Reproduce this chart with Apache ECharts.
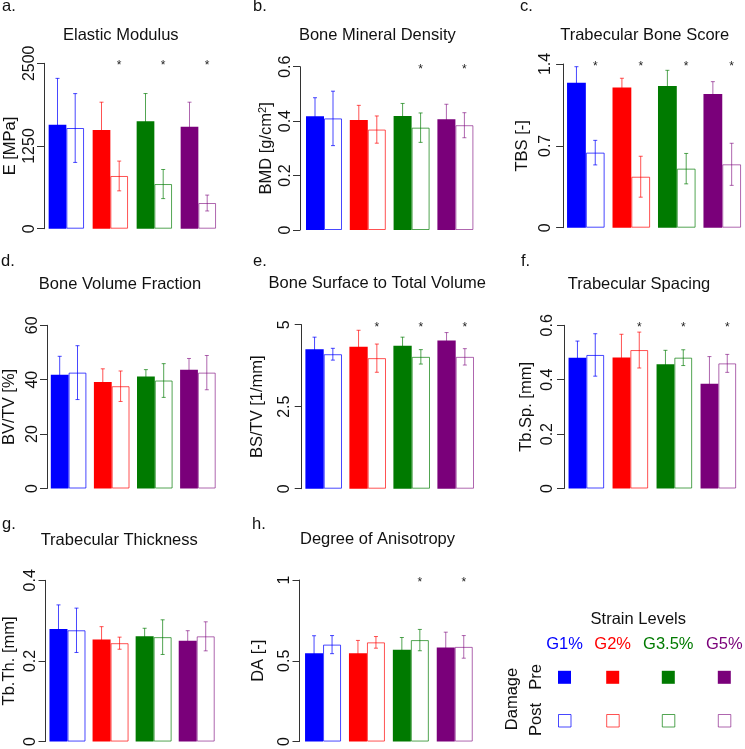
<!DOCTYPE html>
<html><head><meta charset="utf-8">
<script src="https://cdn.jsdelivr.net/npm/echarts@6/dist/echarts.min.js"></script>
<style>html,body{margin:0;padding:0;background:#fff}#c{width:745px;height:749px}</style>
</head><body><div id="c"></div>
<script>
const groups = ['G1%', 'G2%', 'G3.5%', 'G5%'];
// a. Elastic Modulus
const emPre = [1572, 1492, 1623, 1542];
const emPreSd = [700, 420, 420, 370];
const emPost = [1522, 797, 675, 388];
const emPostSd = [520, 225, 220, 120];
const emSig = [0, 1, 1, 1];
const emTicks = [0, 1250, 2500];
// b. Bone Mineral Density
const bmdPre = [0.418, 0.404, 0.419, 0.407];
const bmdPreSd = [0.068, 0.054, 0.046, 0.055];
const bmdPost = [0.410, 0.369, 0.376, 0.385];
const bmdPostSd = [0.100, 0.050, 0.054, 0.046];
const bmdSig = [0, 0, 1, 1];
const bmdTicks = [0, 0.2, 0.4, 0.6];
// c. Trabecular Bone Score
const tbsPre = [1.240, 1.198, 1.212, 1.144];
const tbsPreSd = [0.137, 0.080, 0.134, 0.105];
const tbsPost = [0.642, 0.436, 0.505, 0.542];
const tbsPostSd = [0.105, 0.175, 0.130, 0.180];
const tbsSig = [1, 1, 1, 1];
const tbsTicks = [0, 0.7, 1.4];
// d. Bone Volume Fraction
const bvPre = [41.8, 39.2, 41.2, 43.7];
const bvPreSd = [6.8, 4.8, 2.5, 4.1];
const bvPost = [42.6, 37.6, 39.7, 42.6];
const bvPostSd = [9.9, 5.6, 6.2, 6.3];
const bvSig = [0, 0, 0, 0];
const bvTicks = [0, 20, 40, 60];
// e. Bone Surface to Total Volume
const bsPre = [4.25, 4.33, 4.36, 4.52];
const bsPreSd = [0.37, 0.50, 0.26, 0.24];
const bsPost = [4.10, 3.98, 4.02, 4.02];
const bsPostSd = [0.18, 0.43, 0.22, 0.25];
const bsSig = [0, 1, 1, 1];
const bsTicks = [0, 2.5, 5];
// f. Trabecular Spacing
const spPre = [0.481, 0.482, 0.457, 0.385];
const spPreSd = [0.061, 0.085, 0.051, 0.100];
const spPost = [0.491, 0.509, 0.481, 0.460];
const spPostSd = [0.078, 0.066, 0.029, 0.033];
const spSig = [0, 1, 1, 1];
const spTicks = [0, 0.2, 0.4, 0.6];
// g. Trabecular Thickness
const thPre = [0.279, 0.253, 0.261, 0.250];
const thPreSd = [0.060, 0.032, 0.020, 0.025];
const thPost = [0.276, 0.244, 0.259, 0.261];
const thPostSd = [0.055, 0.015, 0.043, 0.036];
const thSig = [0, 0, 0, 0];
const thTicks = [0, 0.2, 0.4];
// h. Degree of Anisotropy
const daPre = [0.547, 0.547, 0.568, 0.582];
const daPreSd = [0.108, 0.079, 0.076, 0.095];
const daPost = [0.600, 0.614, 0.628, 0.586];
const daPostSd = [0.056, 0.036, 0.066, 0.070];
const daSig = [0, 0, 1, 1];
const daTicks = [0, 0.5, 1];

const colors = ['#0000ff', '#ff0000', '#007a00', '#7a007a'];
const lightColors = ['rgba(0,0,255,0.72)', 'rgba(255,0,0,0.68)', 'rgba(0,122,0,0.68)', 'rgba(122,0,122,0.6)'];
const FONT = '"Liberation Sans", Arial, sans-serif';

const panels = [
  {letter: 'a.', title: 'Elastic Modulus', name: 'E [MPa]', pre: emPre, preSd: emPreSd, post: emPost, postSd: emPostSd, sig: emSig, ticks: emTicks,
   left: 44.35, width: 176, top: 63.3, height: 165.4, axisX: 44, bw: 17.7, nameGap: 25, margin: 6.5, tx: 120.8, ty: 35, lx: 2, ly: 6.5},
  {letter: 'b.', title: 'Bone Mineral Density', name: 'BMD [g/cm{sup|2}]', pre: bmdPre, preSd: bmdPreSd, post: bmdPost, postSd: bmdPostSd, sig: bmdSig, ticks: bmdTicks,
   left: 302.1, width: 175.2, top: 66.7, height: 163.3, axisX: 300, bw: 18, nameGap: 25.5, margin: 6.8, tx: 377.3, ty: 35, lx: 253, ly: 6.5},
  {letter: 'c.', title: 'Trabecular Bone Score', name: 'TBS [-]', pre: tbsPre, preSd: tbsPreSd, post: tbsPost, postSd: tbsPostSd, sig: tbsSig, ticks: tbsTicks,
   left: 563.1, width: 186.8, top: 64, height: 163.7, axisX: 564, bw: 18.8, nameGap: 32, margin: 9.8, tx: 644.7, ty: 35, lx: 520, ly: 6.5},
  {letter: 'd.', title: 'Bone Volume Fraction', name: 'BV/TV [%]', pre: bvPre, preSd: bvPreSd, post: bvPost, postSd: bvPostSd, sig: bvSig, ticks: bvTicks,
   left: 43.45, width: 176, top: 325.3, height: 163.2, axisX: 43.4, bw: 17.8, nameGap: 29, margin: 6.5, tx: 120, ty: 284, lx: 1, ly: 261.5},
  {letter: 'e.', title: 'Bone Surface to Total Volume', name: 'BS/TV [1/mm]', pre: bsPre, preSd: bsPreSd, post: bsPost, postSd: bsPostSd, sig: bsSig, ticks: bsTicks,
   left: 301.7, width: 176, top: 324.7, height: 164, axisX: 301.7, bw: 18.3, nameGap: 35.5, margin: 9, tx: 377.3, ty: 283.3, lx: 253, ly: 261.5},
  {letter: 'f.', title: 'Trabecular Spacing', name: 'Tb.Sp. [mm]', pre: spPre, preSd: spPreSd, post: spPost, postSd: spPostSd, sig: spSig, ticks: spTicks,
   left: 564.35, width: 176, top: 325.3, height: 163.2, axisX: 564, bw: 17.8, nameGap: 29, margin: 8.2, tx: 639, ty: 284.3, lx: 521, ly: 261.5},
  {letter: 'g.', title: 'Trabecular Thickness', name: 'Tb.Th. [mm]', pre: thPre, preSd: thPreSd, post: thPost, postSd: thPostSd, sig: thSig, ticks: thTicks,
   left: 43.25, width: 175, top: 580.3, height: 164, axisX: 42.8, bw: 18, nameGap: 27.5, margin: 6.5, tx: 119.2, ty: 540.7, lx: 2, ly: 524.5},
  {letter: 'h.', title: 'Degree of Anisotropy', name: 'DA [-]', pre: daPre, preSd: daPreSd, post: daPost, postSd: daPostSd, sig: daSig, ticks: daTicks,
   left: 301.1, width: 175.6, top: 580, height: 165, axisX: 299.5, bw: 18, nameGap: 33, margin: 6.8, tx: 377.5, ty: 539.3, lx: 252, ly: 524.5}
];

const grid = [], xAxis = [], yAxis = [], series = [], graphic = [];

panels.forEach((p, k) => {
  const ymin = p.ticks[0], ymax = p.ticks[p.ticks.length - 1];
  grid.push({left: p.left, top: p.top, width: p.width, height: p.height, containLabel: false});
  xAxis.push({type: 'category', gridIndex: k, data: groups, show: false, boundaryGap: true});
  yAxis.push({
    type: 'value', gridIndex: k, min: ymin, max: ymax, interval: p.ticks[1] - p.ticks[0],
    offset: Math.max(0, p.left - p.axisX),
    axisLine: {show: true, lineStyle: {color: '#333', width: 1}},
    axisTick: {show: true, length: 7, lineStyle: {color: '#333', width: 1}},
    splitLine: {show: false},
    axisLabel: {rotate: 90, margin: p.margin, fontSize: 16, color: '#111', fontFamily: FONT,
      formatter: v => String(+Number(v).toFixed(6))},
    name: p.name, nameLocation: 'middle', nameGap: p.nameGap, nameRotate: 90,
    nameTextStyle: {fontSize: 16.5, color: '#111', fontFamily: FONT,
      rich: {sup: {fontSize: 11, color: '#111', fontFamily: FONT, verticalAlign: 'top', padding: [0, 0, 6, 0]}}}
  });
  const bw = p.bw;
  series.push({
    type: 'custom', xAxisIndex: k, yAxisIndex: k, z: 1, silent: true, clip: false,
    data: groups.map((g, i) => [i, p.pre[i], p.preSd[i], p.post[i], p.postSd[i], p.sig[i]]),
    encode: {x: 0, y: 1},
    renderItem: function (params, api) {
      const idx = api.value(0);
      const cx = api.coord([idx, 0])[0];
      const col = lightColors[idx];
      const children = [];
      const addErr = (x, v, sd) => {
        const yt = api.coord([idx, v + sd])[1], yb = api.coord([idx, v - sd])[1];
        const st = {stroke: col, lineWidth: 1};
        children.push({type: 'line', shape: {x1: x, y1: yt, x2: x, y2: yb}, style: st});
        children.push({type: 'line', shape: {x1: x - 2, y1: yt, x2: x + 2, y2: yt}, style: st});
        children.push({type: 'line', shape: {x1: x - 2, y1: yb, x2: x + 2, y2: yb}, style: st});
      };
      addErr(cx - bw / 2, api.value(1), api.value(2));
      addErr(cx + bw / 2, api.value(3), api.value(4));
      if (api.value(5)) {
        const yt = api.coord([idx, ymax])[1];
        children.push({type: 'text', x: cx + bw / 2, y: yt + 2.5,
          style: {text: '*', align: 'center', verticalAlign: 'middle', font: '12px ' + FONT, fill: '#222'}});
      }
      return {type: 'group', children};
    }
  });
  series.push({
    type: 'bar', name: 'Pre', xAxisIndex: k, yAxisIndex: k, z: 2, barWidth: bw, barGap: '0%',
    data: p.pre.map((v, i) => ({value: v, itemStyle: {color: colors[i]}}))
  });
  series.push({
    type: 'bar', name: 'Post', xAxisIndex: k, yAxisIndex: k, z: 2, barWidth: bw, barGap: '0%',
    data: p.post.map((v, i) => ({value: v, itemStyle: {color: 'rgba(255,255,255,0)', borderColor: lightColors[i], borderWidth: 1}}))
  });
  graphic.push({type: 'text', x: p.tx, y: p.ty, style: {text: p.title, align: 'center', verticalAlign: 'middle', font: '16.5px ' + FONT, fill: '#111'}});
  graphic.push({type: 'text', x: p.lx, y: p.ly, style: {text: p.letter, align: 'left', verticalAlign: 'middle', font: '16.5px ' + FONT, fill: '#111'}});
});

// Legend panel
const legX = [564.5, 612.7, 668.3, 724.3];
graphic.push({type: 'text', x: 638.3, y: 619.3, style: {text: 'Strain Levels', align: 'center', verticalAlign: 'middle', font: '16.5px ' + FONT, fill: '#111'}});
groups.forEach((g, i) => {
  graphic.push({type: 'text', x: legX[i], y: 644, style: {text: g, align: 'center', verticalAlign: 'middle', font: '16.5px ' + FONT, fill: colors[i]}});
  graphic.push({type: 'rect', shape: {x: legX[i] - 6.5, y: 670.8, width: 13, height: 13}, style: {fill: colors[i]}});
  graphic.push({type: 'rect', shape: {x: legX[i] - 6, y: 714.5, width: 12.5, height: 12.5}, style: {fill: '#fff', stroke: lightColors[i], lineWidth: 1}});
});
graphic.push({type: 'text', x: 512.5, y: 699, rotation: Math.PI / 2, style: {text: 'Damage', align: 'center', verticalAlign: 'middle', font: '16.5px ' + FONT, fill: '#111'}});
graphic.push({type: 'text', x: 536, y: 677, rotation: Math.PI / 2, style: {text: 'Pre', align: 'center', verticalAlign: 'middle', font: '16.5px ' + FONT, fill: '#111'}});
graphic.push({type: 'text', x: 536, y: 719.5, rotation: Math.PI / 2, style: {text: 'Post', align: 'center', verticalAlign: 'middle', font: '16.5px ' + FONT, fill: '#111'}});

const chart = echarts.init(document.getElementById('c'), null, {renderer: 'canvas'});
chart.setOption({
  animation: false,
  backgroundColor: '#fff',
  textStyle: {fontFamily: FONT},
  grid, xAxis, yAxis, series, graphic
});
</script>
</body></html>
